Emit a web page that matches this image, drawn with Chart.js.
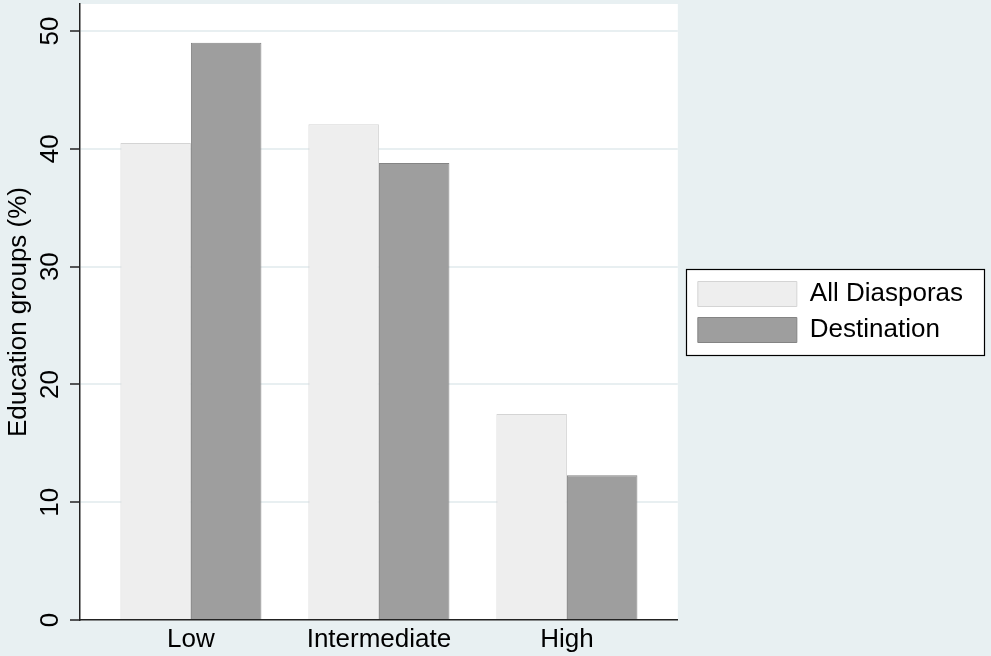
<!DOCTYPE html>
<html>
<head>
<meta charset="utf-8">
<script src="https://cdn.jsdelivr.net/npm/chart.js@4/dist/chart.umd.min.js"></script>
<style>
  html, body { margin: 0; padding: 0; background: #e8f0f2; }
  #wrap { width: 991px; height: 656px; }
</style>
</head>
<body>
<div id="wrap"><canvas id="chart" width="991" height="656"></canvas></div>
<script>
// data
const categories = ['Low', 'Intermediate', 'High'];
const allDiasporas = [40.5, 42.1, 17.5];
const destination = [49.0, 38.8, 12.3];
const yTicks = [0, 10, 20, 30, 40, 50];
const seriesNames = ['All Diasporas', 'Destination'];

const FONT = "'Liberation Sans', Arial, sans-serif";

// rectangle round the legend items
function legendRect(chart) {
    const boxes = chart.legend.legendHitBoxes;
    if (!boxes || !boxes.length) return null;
    const first = boxes[0], last = boxes[boxes.length - 1];
    const x0 = Math.round(first.left - 12) + 0.5;
    const y0 = Math.round(first.top - 12) + 0.5;
    const y1 = last.top + last.height + 12;
    return { x: x0, y: y0, w: chart.width - 6 - Math.round(x0), h: Math.round(y1 - y0) };
}

// background + white plot region, and the box around the legend
const stataFrame = {
    id: 'stataFrame',
    beforeDraw(chart) {
        const { ctx, chartArea: a } = chart;
        ctx.save();
        ctx.fillStyle = '#e8f0f2';
        ctx.fillRect(0, 0, chart.width, chart.height);
        ctx.fillStyle = '#ffffff';
        ctx.fillRect(a.left, a.top, a.right - a.left, a.bottom - a.top);
        const r = legendRect(chart);
        if (r) ctx.fillRect(r.x, r.y, r.w, r.h);
        ctx.restore();
    },
    afterLayout(chart) {
        // legend: a bit away from the plot, centred on the plot region
        const lg = chart.legend, a = chart.chartArea;
        lg.left += 10;
        lg.right += 10;
        lg.top = a.top;
        lg.bottom = a.bottom;
        lg.height = a.bottom - a.top;
    },
    afterDraw(chart) {
        const r = legendRect(chart);
        if (!r) return;
        const ctx = chart.ctx;
        ctx.save();
        ctx.strokeStyle = '#000';
        ctx.lineWidth = 1.2;
        ctx.strokeRect(r.x, r.y, r.w, r.h);
        ctx.restore();
    }
};

const ctx = document.getElementById('chart').getContext('2d');
new Chart(ctx, {
    type: 'bar',
    data: {
        datasets: [{
            label: seriesNames[0],
            data: allDiasporas.map((v, i) => ({ x: i + 1, y: v })),
            backgroundColor: '#eeeeee',
            borderColor: '#d4d4d4',
            borderWidth: 1
        }, {
            label: seriesNames[1],
            data: destination.map((v, i) => ({ x: i + 1, y: v })),
            backgroundColor: '#9e9e9e',
            borderColor: '#848484',
            borderWidth: 1
        }]
    },
    options: {
        responsive: false,
        animation: false,
        devicePixelRatio: 1,
        categoryPercentage: 0.75,
        barPercentage: 1.0,
        layout: { padding: { top: 4, right: 28, left: 0, bottom: 0 } },
        scales: {
            x: {
                type: 'linear',
                offset: false,
                min: 0.41,
                max: 3.59,
                afterBuildTicks: s => { s.ticks = categories.map((_, i) => ({ value: i + 1 })); },
                afterFit: s => { s.height = 36; s.paddingLeft = 0; s.paddingRight = 0; },
                ticks: {
                    callback: v => categories[v - 1],
                    color: '#000',
                    font: { family: FONT, size: 26 },
                    padding: 4,
                    maxRotation: 0,
                    autoSkip: false
                },
                grid: { display: false, drawTicks: false },
                border: { display: true, color: '#222', width: 1.5 }
            },
            y: {
                min: 0,
                max: 52.3,
                afterBuildTicks: s => { s.ticks = yTicks.map(v => ({ value: v })); },
                afterFit: s => { s.width = 80; s.paddingTop = 0; s.paddingBottom = 0; },
                ticks: {
                    color: '#000',
                    font: { family: FONT, size: 26 },
                    minRotation: 90,
                    maxRotation: 90,
                    crossAlign: 'center',
                    padding: 5
                },
                grid: {
                    color: '#e8eff1',
                    lineWidth: 2,
                    tickColor: '#222',
                    tickLength: 10,
                    tickWidth: 1.5
                },
                border: { display: true, color: '#222', width: 1.5 },
                title: {
                    display: true,
                    text: 'Education groups (%)',
                    color: '#000',
                    font: { family: FONT, size: 26 },
                    padding: { top: 3, bottom: 0 }
                }
            }
        },
        plugins: {
            legend: {
                position: 'right',
                maxWidth: 320,
                labels: {
                    boxWidth: 99,
                    boxHeight: 25,
                    padding: 10,
                    color: '#000',
                    font: { family: FONT, size: 26 }
                }
            },
            tooltip: { enabled: false }
        }
    },
    plugins: [stataFrame]
});
</script>
</body>
</html>
